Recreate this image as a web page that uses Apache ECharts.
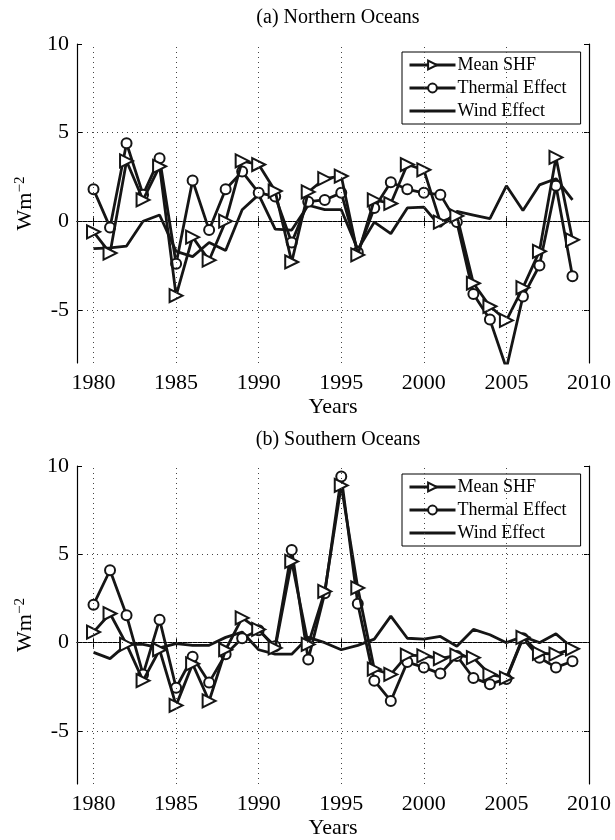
<!DOCTYPE html>
<html>
<head>
<meta charset="utf-8">
<script src="https://cdn.jsdelivr.net/npm/echarts@6/dist/echarts.min.js"></script>
<style>
  html, body { margin: 0; padding: 0; background: #fff; }
  #main { width: 615px; height: 840px; }
</style>
</head>
<body>
<div id="main"></div>
<script>
var years = [1980, 1981, 1982, 1983, 1984, 1985, 1986, 1987, 1988, 1989,
             1990, 1991, 1992, 1993, 1994, 1995, 1996, 1997, 1998, 1999,
             2000, 2001, 2002, 2003, 2004, 2005, 2006, 2007, 2008, 2009];

// (a) Northern Oceans
var northShf     = [-0.6, -1.8, 3.4, 1.2, 3.1, -4.2, -0.9, -2.2, 0.0, 3.4,
                    3.2, 1.7, -2.3, 1.65, 2.4, 2.55, -1.9, 1.2, 1.0, 3.2,
                    2.9, -0.05, 0.3, -3.5, -4.8, -5.6, -3.75, -1.7, 3.6, -1.05];
var northThermal = [1.8, -0.35, 4.4, 1.5, 3.55, -2.4, 2.3, -0.5, 1.8, 2.8,
                    1.6, 1.4, -1.2, 1.1, 1.2, 1.6, -1.75, 0.75, 2.2, 1.8,
                    1.6, 1.5, -0.05, -4.1, -5.55, -8.3, -4.25, -2.5, 2.0, -3.1];
var northWind    = [-1.55, -1.5, -1.4, 0.0, 0.35, -1.7, -2.0, -1.2, -1.65, 0.65,
                    1.5, -0.45, -0.5, 0.9, 0.65, 0.65, -1.6, -0.05, -0.7, 0.75,
                    0.8, -0.3, 0.55, 0.35, 0.15, 2.0, 0.6, 2.05, 2.4, 1.2];

// (b) Southern Oceans
var southShf     = [0.6, 1.65, -0.1, -2.15, -0.4, -3.55, -1.2, -3.3, -0.4, 1.4,
                    0.75, -0.3, 4.6, -0.1, 2.9, 8.9, 3.1, -1.5, -1.8, -0.7,
                    -0.75, -0.9, -0.7, -0.85, -1.8, -2.0, 0.3, -0.6, -0.65, -0.35];
var southThermal = [2.15, 4.1, 1.55, -1.8, 1.3, -2.55, -0.8, -2.25, -0.65, 0.25,
                    0.7, -0.2, 5.25, -0.95, 2.8, 9.4, 2.2, -2.15, -3.3, -1.1,
                    -1.4, -1.75, -0.75, -2.0, -2.35, -2.05, 0.25, -0.85, -1.4, -1.05];
var southWind    = [-0.55, -0.9, -0.1, -0.1, -0.3, -0.05, -0.15, -0.15, 0.3, 0.6,
                    -0.4, -0.65, -0.65, 0.3, 0.0, -0.4, -0.15, 0.2, 1.5, 0.25,
                    0.2, 0.35, -0.2, 0.75, 0.45, 0.0, 0.35, 0.0, 0.5, -0.3];

var xTicks = [1980, 1985, 1990, 1995, 2000, 2005, 2010];
var yTicks = [-5, 0, 5, 10];
var seriesNames = ['Mean SHF', 'Thermal Effect', 'Wind Effect'];
var panelTitles = ['(a) Northern Oceans', '(b) Southern Oceans'];

var FONT = 'Liberation Serif';
var INK = '#151515';

function pairs(vals) {
    return years.map(function (y, i) { return [y, vals[i]]; });
}

// dotted grid like matlab "grid on"
function gridLines() {
    var d = [];
    yTicks.forEach(function (v) { if (v < 10) d.push({ yAxis: v }); });
    xTicks.forEach(function (v) { if (v < 2010) d.push({ xAxis: v }); });
    return {
        silent: true,
        symbol: ['none', 'none'],
        label: { show: false },
        lineStyle: { type: [1, 4], color: '#444', width: 1 },
        animation: false,
        data: d
    };
}

var grids = [
    { left: 77, width: 512, top: 44, height: 319 },
    { left: 77, width: 512, top: 466, height: 320 }
];

var xAxes = [], yAxes = [];
grids.forEach(function (g, gi) {
    // bottom / left (with labels)
    xAxes.push({
        type: 'value', gridIndex: gi, min: 1979, max: 2010, position: 'bottom',
        name: 'Years', nameLocation: 'middle', nameGap: 33,
        nameTextStyle: { fontFamily: FONT, fontSize: 22, color: '#000' },
        axisLine: { show: true, lineStyle: { color: '#000', width: 1.2 } },
        axisTick: { show: true, inside: true, length: 5, customValues: xTicks, lineStyle: { color: '#000' } },
        axisLabel: {
            customValues: xTicks, margin: 9, fontFamily: FONT, fontSize: 22, color: '#000',
            formatter: function (v) { return String(v); }
        },
        splitLine: { show: false }
    });
    xAxes.push({
        type: 'value', gridIndex: gi, min: 1979, max: 2010, position: 'top',
        axisLine: { show: true, lineStyle: { color: '#000', width: 1.2 } },
        axisTick: { show: true, inside: true, length: 5, customValues: xTicks, lineStyle: { color: '#000' } },
        axisLabel: { show: false },
        splitLine: { show: false }
    });
    yAxes.push({
        type: 'value', gridIndex: gi, min: -8, max: 10, position: 'left',
        name: 'Wm{s|\u22122}', nameLocation: 'middle', nameGap: 34, nameRotate: 90,
        nameTextStyle: {
            fontFamily: FONT, fontSize: 22, color: '#000',
            rich: { s: { fontFamily: FONT, fontSize: 15, color: '#000', verticalAlign: 'top', padding: [0, 0, 10, 0] } }
        },
        axisLine: { show: true, lineStyle: { color: '#000', width: 1.2 } },
        axisTick: { show: true, inside: true, length: 5, customValues: yTicks, lineStyle: { color: '#000' } },
        axisLabel: { customValues: yTicks, margin: 8, fontFamily: FONT, fontSize: 22, color: '#000' },
        splitLine: { show: false }
    });
    yAxes.push({
        type: 'value', gridIndex: gi, min: -8, max: 10, position: 'right',
        axisLine: { show: true, lineStyle: { color: '#000', width: 1.2 } },
        axisTick: { show: true, inside: true, length: 5, customValues: yTicks, lineStyle: { color: '#000' } },
        axisLabel: { show: false },
        splitLine: { show: false }
    });
});

var panels = [
    [northShf, northThermal, northWind],
    [southShf, southThermal, southWind]
];

var series = [];
panels.forEach(function (p, gi) {
    var ax = gi * 2;
    series.push({
        name: seriesNames[0], type: 'line', xAxisIndex: ax, yAxisIndex: ax,
        data: pairs(p[0]), symbol: 'emptyTriangle', symbolSize: 13, symbolRotate: -90,
        lineStyle: { color: INK, width: 2.8 },
        itemStyle: { color: INK, borderColor: INK, borderWidth: 2.2 },
        z: 4, animation: false
    });
    series.push({
        name: seriesNames[1], type: 'line', xAxisIndex: ax, yAxisIndex: ax,
        data: pairs(p[1]), symbol: 'emptyCircle', symbolSize: 10,
        lineStyle: { color: INK, width: 2.8 },
        itemStyle: { color: INK, borderColor: INK, borderWidth: 2.2 },
        z: 3, animation: false
    });
    series.push({
        name: seriesNames[2], type: 'line', xAxisIndex: ax, yAxisIndex: ax,
        data: pairs(p[2]), symbol: 'none',
        lineStyle: { color: INK, width: 2.8 },
        itemStyle: { color: INK },
        markLine: gridLines(),
        z: 2, animation: false
    });
});

var legends = grids.map(function (g, gi) {
    return {
        data: [
            { name: seriesNames[0] },
            { name: seriesNames[1] },
            { name: seriesNames[2], itemStyle: { color: 'rgba(0,0,0,0)', borderColor: 'rgba(0,0,0,0)', borderWidth: 0 } }
        ],
        orient: 'vertical',
        left: 402, top: g.top + 8,
        width: 180,
        padding: [4, 14, 4, 6],
        itemGap: 5,
        itemWidth: 46, itemHeight: 11,
        borderColor: '#000', borderWidth: 1,
        backgroundColor: '#fff',
        lineStyle: { width: 3, color: INK },
        textStyle: { fontFamily: FONT, fontSize: 18, color: '#000', padding: [0, 0, 0, -3] },
        selectedMode: false
    };
});

var chart = echarts.init(document.getElementById('main'), null, { renderer: 'canvas' });
chart.setOption({
    backgroundColor: '#fff',
    animation: false,
    title: panelTitles.map(function (t, i) {
        return {
            text: t, left: 333, textAlign: 'center', top: i === 0 ? 3 : 425,
            textStyle: { fontFamily: FONT, fontSize: 20, fontWeight: 'normal', color: '#000' }
        };
    }),
    legend: legends,
    grid: grids,
    xAxis: xAxes,
    yAxis: yAxes,
    series: series
});
</script>
</body>
</html>
